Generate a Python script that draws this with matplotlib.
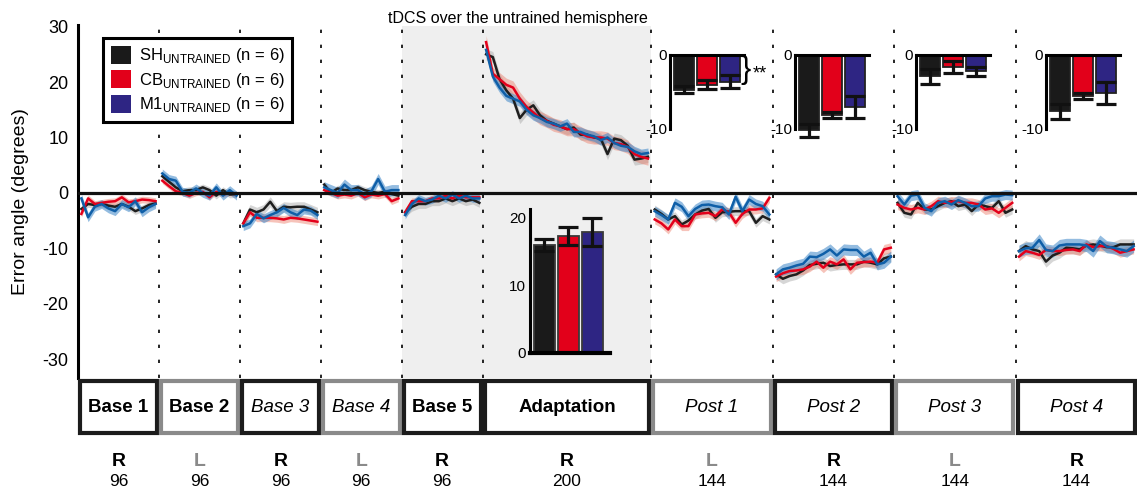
import numpy as np
import matplotlib
matplotlib.use('Agg')
import matplotlib.pyplot as plt
from matplotlib.patches import Patch, Rectangle
from matplotlib.transforms import blended_transform_factory

plt.rcParams['font.family'] = ['Liberation Sans', 'DejaVu Sans']
plt.rcParams['mathtext.fontset'] = 'custom'
plt.rcParams['mathtext.rm'] = 'Liberation Sans'

# blocks
block_names = ['Base 1', 'Base 2', 'Base 3', 'Base 4', 'Base 5', 'Adaptation',
               'Post 1', 'Post 2', 'Post 3', 'Post 4']
block_hand = ['R', 'L', 'R', 'L', 'R', 'R', 'L', 'R', 'L', 'R']
block_trials = [96, 96, 96, 96, 96, 200, 144, 144, 144, 144]
block_bold = [True, True, False, False, True, True, False, False, False, False]
bin_size = 8

# binned error angle (degrees), SH / CB / M1
base1_sh = [-2.9, -2.0, -2.2, -2.0, -2.3, -2.5, -2.0, -2.5, -3.3, -2.8, -2.2, -1.9]
base1_cb = [-3.8, -1.0, -2.0, -1.8, -1.6, -1.5, -0.8, -1.7, -1.5, -1.2, -1.3, -1.5]
base1_m1 = [-1.0, -4.4, -2.5, -2.0, -2.8, -3.3, -2.0, -2.6, -1.5, -3.5, -2.6, -2.0]

base2_sh = [3.0, 2.0, 1.0, 0.3, 0.5, 0.5, 1.0, 0.5, -0.5, 0.5, -0.3, -0.2]
base2_cb = [2.2, 1.2, 0.3, 0.0, -0.5, 0.0, 0.2, -0.8, 0.2, -0.3, 0.0, -0.3]
base2_m1 = [3.5, 2.5, 2.2, 0.2, 0.0, 0.8, 0.0, -0.5, 1.0, -0.5, 0.5, -0.5]

base3_sh = [-5.5, -3.0, -3.5, -3.0, -1.6, -3.3, -2.5, -2.6, -2.5, -2.5, -3.0, -3.5]
base3_cb = [-5.5, -3.5, -4.5, -4.5, -4.5, -4.6, -4.8, -4.5, -4.6, -4.8, -5.0, -5.2]
base3_m1 = [-6.0, -5.5, -3.8, -4.6, -4.0, -3.5, -2.7, -3.5, -4.0, -3.0, -3.2, -4.0]

base4_sh = [1.5, 0.0, 0.8, 0.5, 0.5, 1.0, 0.5, 0.2, 0.0, 0.2, -0.2, -0.5]
base4_cb = [0.5, 0.0, -0.5, -0.3, -0.5, 0.0, -0.8, -0.3, -0.5, -0.2, -1.5, -1.0]
base4_m1 = [1.0, 0.5, 0.0, 1.5, 0.5, 0.5, -0.3, 0.3, 2.5, 0.2, 0.5, 0.5]

base5_sh = [-3.5, -2.5, -2.0, -2.0, -1.5, -1.5, -1.0, -1.5, -1.0, -1.5, -1.2, -1.8]
base5_cb = [-3.5, -1.5, -1.5, -1.5, -1.0, -1.0, -0.5, -1.0, -0.5, -0.8, -0.8, -0.8]
base5_m1 = [-4.0, -2.0, -1.0, -1.5, -1.2, -0.5, -1.0, -0.3, -1.0, -0.5, -1.0, -1.0]

adapt_sh = [25.0, 24.5, 20.5, 18.5, 17.0, 13.5, 15.0, 15.8, 14.0, 13.0, 12.5, 12.0, 11.5,
            11.8, 10.5, 10.5, 10.0, 9.8, 7.0, 9.8, 9.5, 8.5, 6.0, 6.2, 6.5]
adapt_cb = [27.2, 21.5, 20.5, 19.5, 19.0, 17.0, 15.5, 14.5, 13.5, 13.0, 12.3, 12.0, 11.5,
            11.5, 10.8, 10.2, 10.0, 10.0, 9.8, 9.0, 8.8, 8.3, 7.0, 6.5, 6.2]
adapt_m1 = [25.8, 21.0, 19.0, 17.5, 17.0, 16.5, 15.0, 14.0, 13.5, 12.8, 12.5, 12.0, 12.5,
            11.0, 11.0, 10.5, 10.2, 9.5, 10.0, 9.0, 8.5, 8.3, 7.5, 7.0, 7.2]

post1_sh = [-3.0, -3.8, -4.8, -4.2, -5.7, -5.0, -3.9, -3.2, -2.9, -4.5, -3.5, -3.4, -3.3, -3.3, -3.3, -5.4, -4.2, -4.8]
post1_cb = [-4.8, -5.5, -6.6, -4.8, -6.0, -6.0, -3.9, -3.7, -3.6, -4.2, -3.0, -3.5, -5.4, -3.8, -3.0, -3.0, -2.8, -0.9]
post1_m1 = [-3.3, -4.0, -4.8, -1.8, -2.5, -4.2, -2.9, -2.2, -2.1, -2.4, -2.6, -3.9, -0.7, -3.3, -1.2, -2.0, -2.4, -3.9]

post2_sh = [-14.7, -15.5, -15.0, -14.7, -14.0, -13.0, -12.8, -12.6, -13.2, -13.0, -12.9, -12.9, -12.9, -12.4, -12.6, -12.9, -11.8, -11.5]
post2_cb = [-15.1, -14.5, -14.1, -14.0, -13.8, -13.3, -12.4, -13.5, -12.4, -12.9, -12.0, -13.8, -12.6, -12.5, -12.4, -12.6, -10.2, -9.9]
post2_m1 = [-14.7, -13.8, -13.5, -13.1, -12.8, -11.5, -11.6, -11.0, -10.2, -11.3, -10.2, -10.3, -10.3, -11.5, -10.8, -12.9, -12.6, -11.5]

post3_sh = [-1.8, -3.6, -3.9, -1.8, -3.0, -3.0, -2.4, -1.8, -1.5, -2.4, -2.1, -3.3, -2.1, -2.4, -2.7, -1.5, -3.6, -3.0]
post3_cb = [-2.1, -2.7, -3.0, -2.7, -3.0, -2.4, -1.5, -1.8, -1.6, -1.5, -1.8, -1.8, -2.1, -3.0, -2.8, -3.6, -2.7, -1.8]
post3_m1 = [-0.6, -2.1, -0.5, -0.3, -2.7, -3.3, -1.8, -1.5, -2.1, -1.3, -1.8, -2.4, -2.4, -1.0, -0.6, -0.6, -0.3, -0.4]

post4_sh = [-10.5, -9.6, -10.2, -10.5, -12.4, -11.3, -10.8, -9.9, -10.0, -10.2, -9.5, -9.3, -9.5, -9.8, -9.8, -9.3, -9.3, -9.3]
post4_cb = [-11.5, -10.5, -10.8, -11.2, -10.3, -10.5, -10.5, -10.3, -10.2, -10.5, -9.3, -9.8, -9.6, -9.6, -10.1, -10.8, -10.5, -10.2]
post4_m1 = [-10.5, -10.0, -9.9, -8.5, -10.3, -10.5, -9.5, -9.3, -9.3, -9.3, -9.5, -10.5, -8.7, -9.7, -9.9, -10.2, -10.5, -9.6]

# typical SEM per block
sem_sh = [0.6, 0.6, 0.9, 0.6, 0.8, 1.0, 0.8, 0.9, 0.8, 1.0]
sem_cb = [0.6, 0.5, 0.7, 0.6, 0.6, 1.2, 0.8, 0.9, 0.9, 0.8]
sem_m1 = [0.8, 0.8, 0.8, 1.0, 0.7, 0.9, 0.9, 1.0, 0.9, 1.1]

# inset bars
adapt_bar = [16.0, 17.3, 17.9]
adapt_err = [0.9, 1.3, 2.1]
post_bar = [[-4.7, -4.0, -3.6], [-10.2, -8.1, -7.0], [-2.9, -1.6, -2.2], [-7.6, -5.5, -5.1]]
post_err = [[0.5, 0.6, 0.9], [0.9, 0.45, 1.5], [1.0, 0.8, 0.6], [1.0, 0.4, 1.5]]

group_labels = [r'SH$_{\mathregular{UNTRAINED}}$ (n = 6)',
                r'CB$_{\mathregular{UNTRAINED}}$ (n = 6)',
                r'M1$_{\mathregular{UNTRAINED}}$ (n = 6)']

sh_blocks = [base1_sh, base2_sh, base3_sh, base4_sh, base5_sh, adapt_sh, post1_sh, post2_sh, post3_sh, post4_sh]
cb_blocks = [base1_cb, base2_cb, base3_cb, base4_cb, base5_cb, adapt_cb, post1_cb, post2_cb, post3_cb, post4_cb]
m1_blocks = [base1_m1, base2_m1, base3_m1, base4_m1, base5_m1, adapt_m1, post1_m1, post2_m1, post3_m1, post4_m1]

bar_colors = ['#1a1a1a', '#e2001a', '#2e2583']
line_colors = ['#1f1f1f', '#e3001b', '#0f5fa8']
fill_colors = ['#9a9a9a', '#ec7a66', '#3c86c8']
fill_alpha = [0.4, 0.45, 0.55]

W, H = 1137, 492
fig = plt.figure(figsize=(W / 100, H / 100), dpi=100)

edges = np.concatenate([[0], np.cumsum(block_trials)])

ax = fig.add_axes([78 / W, 1 - 378 / H, 1 - 78 / W, (378 - 25.5) / H])
ax.set_xlim(0, edges[-1])
ax.set_ylim(-33.4, 30.2)
ax.axvspan(edges[4], edges[6], color='#efefef', zorder=0, lw=0)
for e in edges[1:-1]:
    ax.axvline(e, color='black', lw=1.2, linestyle=(0, (2, 7)), zorder=1)

groups = [(sh_blocks, sem_sh), (cb_blocks, sem_cb), (m1_blocks, sem_m1)]
for g, (blocks, sems) in enumerate(groups):
    for k, vals in enumerate(blocks):
        vals = np.array(vals)
        x = edges[k] + (np.arange(len(vals)) + 0.5) * bin_size
        ax.fill_between(x, vals - sems[k], vals + sems[k], color=fill_colors[g],
                        alpha=fill_alpha[g], lw=0, zorder=2)
        ax.plot(x, vals, color=line_colors[g], lw=1.8, zorder=3)

ax.axhline(0, color='#111111', lw=2.3, zorder=5)

for s in ['top', 'right', 'bottom']:
    ax.spines[s].set_visible(False)
ax.spines['left'].set_linewidth(2.2)
ax.set_xticks([])
ax.set_yticks([-30, -20, -10, 0, 10, 20, 30])
ax.set_yticklabels(['-30', '-20', '-10', '0', '10', '20', '30'])
ax.tick_params(axis='y', length=0, pad=7, labelsize=13)
ax.set_ylabel('Error angle (degrees)', fontsize=14)
ax.yaxis.set_label_coords(-0.046, 0.5)

handles = [Patch(facecolor=c, edgecolor='none') for c in bar_colors]
leg = ax.legend(handles, group_labels, loc='upper left',
                bbox_to_anchor=(103 / W, 1 - 38 / H), bbox_transform=fig.transFigure,
                borderaxespad=0, fancybox=False, edgecolor='black', fontsize=12,
                handlelength=1.25, handleheight=1.3, labelspacing=0.3,
                handletextpad=0.45, borderpad=0.45, framealpha=1)
leg.get_frame().set_linewidth(2.2)
leg.set_zorder(10)

fig.text(518 / W, 1 - 18 / H, 'tDCS over the untrained hemisphere',
         ha='center', va='center', fontsize=11.5)

# block boxes and labels under the axes
tr = blended_transform_factory(ax.transData, fig.transFigure)
box_lo, box_hi = 1 - 433 / H, 1 - 381 / H
for k, name in enumerate(block_names):
    x0, x1 = edges[k], edges[k + 1]
    ec = '#1c1c1c' if block_hand[k] == 'R' else '#8a8a8a'
    pad = 2.5
    rect = Rectangle((x0 + pad, box_lo), x1 - x0 - 2 * pad, box_hi - box_lo,
                     transform=tr, facecolor='white', edgecolor=ec, lw=3,
                     clip_on=False, zorder=4)
    fig.add_artist(rect)
    xc = (x0 + x1) / 2
    if block_bold[k]:
        fig.text(xc, (box_lo + box_hi) / 2, name, transform=tr, ha='center', va='center',
                 fontsize=13.5, fontweight='bold', zorder=6)
    else:
        fig.text(xc, (box_lo + box_hi) / 2, name, transform=tr, ha='center', va='center',
                 fontsize=13.5, fontstyle='italic', zorder=6)
    hc = 'black' if block_hand[k] == 'R' else '#8a8a8a'
    fig.text(xc, 1 - 461 / H, block_hand[k], transform=tr, ha='center', va='center',
             fontsize=14, fontweight='bold', color=hc)
    fig.text(xc, 1 - 482 / H, str(block_trials[k]), transform=tr, ha='center', va='center',
             fontsize=12.5)

# adaptation inset
iax = fig.add_axes([530 / W, 1 - 353 / H, 80 / W, 144 / H])
iax.patch.set_alpha(0)
xb = np.arange(3)
iax.bar(xb, adapt_bar, width=0.875, color=bar_colors, edgecolor='#3a3a3a', lw=1.3, zorder=2)
iax.errorbar(xb, adapt_bar, yerr=adapt_err, fmt='none', ecolor='#111111', elinewidth=2.3,
             capsize=7, capthick=2.3, zorder=3)
iax.set_xlim(-0.6, 2.73)
iax.set_ylim(0, 21.3)
iax.set_xticks([])
iax.set_yticks([0, 10, 20])
iax.tick_params(axis='y', length=0, pad=3, labelsize=11)
for s in ['top', 'right']:
    iax.spines[s].set_visible(False)
iax.spines['left'].set_linewidth(2.2)
iax.spines['bottom'].set_linewidth(3)

# post insets
post_left = [670, 795, 916, 1046]
for p in range(4):
    pax = fig.add_axes([post_left[p] / W, 1 - 129 / H, 74 / W, 74 / H])
    pax.patch.set_alpha(0)
    pax.bar(xb, post_bar[p], width=0.87, color=bar_colors, edgecolor='#222222', lw=1.3,
            zorder=2, clip_on=False)
    pax.errorbar(xb, post_bar[p], yerr=post_err[p], fmt='none', ecolor='#111111',
                 elinewidth=2.3, capsize=7, capthick=2.3, zorder=3, clip_on=False)
    pax.set_xlim(-0.6, 2.6)
    pax.set_ylim(-10, 0)
    pax.set_xticks([])
    pax.set_yticks([0, -10])
    pax.set_yticklabels(['0', '-10'])
    pax.tick_params(axis='y', length=0, pad=2, labelsize=11)
    for s in ['bottom', 'right']:
        pax.spines[s].set_visible(False)
    pax.spines['left'].set_linewidth(2.2)
    pax.spines['top'].set_linewidth(2.2)

fig.text(746 / W, 1 - 70 / H, '}', ha='center', va='center', fontsize=22,
         fontweight='light')
fig.text(760 / W, 1 - 74 / H, '**', ha='center', va='center', fontsize=13)

fig.savefig('out.png', dpi=100)
